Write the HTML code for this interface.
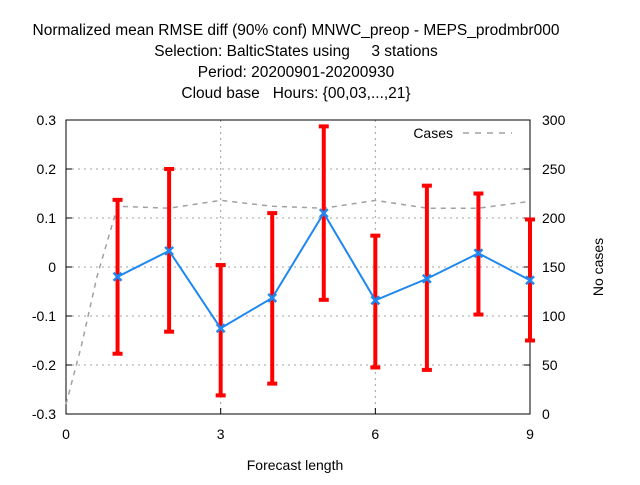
<!DOCTYPE html>
<html><head><meta charset="utf-8"><style>
body{margin:0;background:#fff}
svg text{font-family:"Liberation Sans","DejaVu Sans",sans-serif;font-size:14px;fill:#000;white-space:pre}
.t{font-size:15.5px}
</style></head><body>
<svg id="chart" width="640" height="480" xmlns="http://www.w3.org/2000/svg" xml:space="preserve">
<g text-anchor="middle">
<text class="t" x="296" y="35">Normalized mean RMSE diff (90% conf) MNWC_preop - MEPS_prodmbr000</text>
<text class="t" x="296" y="56">Selection: BalticStates using     3 stations</text>
<text class="t" x="296" y="77">Period: 20200901-20200930</text>
<text class="t" x="296" y="98">Cloud base   Hours: {00,03,...,21}</text>
</g>
<g id="grid"></g>
<g id="axes"></g>
<g id="marks"></g>
<text x="295" y="470" text-anchor="middle">Forecast length</text>
<text transform="translate(603,267) rotate(-90)" text-anchor="middle">No cases</text>
<g>
<text x="453" y="138" text-anchor="end">Cases</text>
<line x1="463" y1="133" x2="512" y2="133" stroke="#a0a0a0" stroke-width="1.5" stroke-dasharray="6,6"/>
</g>
</svg>
<script>
const steps=[1,2,3,4,5,6,7,8,9];
const meanVals=[-0.020,0.033,-0.125,-0.063,0.110,-0.068,-0.024,0.028,-0.027];
const upperVals=[0.137,0.200,0.004,0.110,0.287,0.064,0.166,0.150,0.097];
const lowerVals=[-0.177,-0.132,-0.262,-0.238,-0.067,-0.205,-0.210,-0.097,-0.150];
const caseSteps=[0,0.3,0.6,1,2,3,4,5,6,7,8,9];
const caseVals=[10,70,140,212,210,218,212,210,218,210,210,217];
const yTicks=[-0.3,-0.2,-0.1,0,0.1,0.2,0.3];
const yTickLabels=["-0.3","-0.2","-0.1","0","0.1","0.2","0.3"];
const y2Ticks=[0,50,100,150,200,250,300];
const xTicks=[0,3,6,9];
const X0=66,X1=530,Y0=414,Y1=120;
const sx=v=>X0+(v-0)/9*(X1-X0);
const sy=v=>Y0-(v+0.3)/0.6*(Y0-Y1);
const sy2=v=>Y0-v/300*(Y0-Y1);
const NS="http://www.w3.org/2000/svg";
function mk(p,tag,at){const e=document.createElementNS(NS,tag);for(const k in at)e.setAttribute(k,at[k]);p.appendChild(e);return e;}
const grid=document.getElementById('grid'),axes=document.getElementById('axes'),marks=document.getElementById('marks');
yTicks.forEach((t,i)=>{const y=sy(t);
 if(i>0&&i<yTicks.length-1){const g=mk(grid,'line',{x1:X0,x2:X1,y1:y,y2:y,stroke:'#a0a0a0','stroke-dasharray':'2,4'});
 
 }
 mk(axes,'line',{x1:X0,x2:X0+6,y1:y,y2:y,stroke:'#000'});
 const tx=mk(axes,'text',{x:X0-10,y:y+5,'text-anchor':'end'});tx.textContent=yTickLabels[i];
 
 });
y2Ticks.forEach(t=>{const y=sy2(t);
 mk(axes,'line',{x1:X1-6,x2:X1,y1:y,y2:y,stroke:'#000'});
 const tx=mk(axes,'text',{x:X1+12,y:y+5});tx.textContent=t;
 
 });
xTicks.forEach(t=>{const x=sx(t);
 if(t>0&&t<9){const g=mk(grid,'line',{x1:x,x2:x,y1:Y1,y2:Y0,stroke:'#a0a0a0','stroke-dasharray':'2,4'});
 
 }
 mk(axes,'line',{x1:x,x2:x,y1:Y0,y2:Y0-6,stroke:'#000'});
 const tx=mk(axes,'text',{x:x,y:Y0+25,'text-anchor':'middle'});tx.textContent=t;
 
 });
mk(axes,'rect',{x:X0,y:Y1,width:X1-X0,height:Y0-Y1,fill:'none',stroke:'#000'});
const cl=mk(marks,'polyline',{points:caseSteps.map((s,i)=>sx(s)+','+sy2(caseVals[i])).join(' '),fill:'none',stroke:'#a0a0a0','stroke-width':1.5,'stroke-dasharray':'5,5'});


steps.forEach((s,i)=>{const x=sx(s),a=sy(upperVals[i]),b=sy(lowerVals[i]);
 const g=mk(marks,'g',{stroke:'#ff0000','stroke-width':4});
 
 
 mk(g,'line',{x1:x,x2:x,y1:a,y2:b});
 mk(g,'line',{x1:x-5,x2:x+5,y1:a,y2:a});
 mk(g,'line',{x1:x-5,x2:x+5,y1:b,y2:b});});
const ml=mk(marks,'polyline',{points:steps.map((s,i)=>sx(s)+','+sy(meanVals[i])).join(' '),fill:'none',stroke:'#1e88f0','stroke-width':2});


steps.forEach((s,i)=>{const x=sx(s),y=sy(meanVals[i]);
 const p=mk(marks,'path',{d:`M${x-4},${y-4}L${x+4},${y+4}M${x-4},${y+4}L${x+4},${y-4}`,stroke:'#1e88f0','stroke-width':2.5});
 
 });
</script>
</body></html>
